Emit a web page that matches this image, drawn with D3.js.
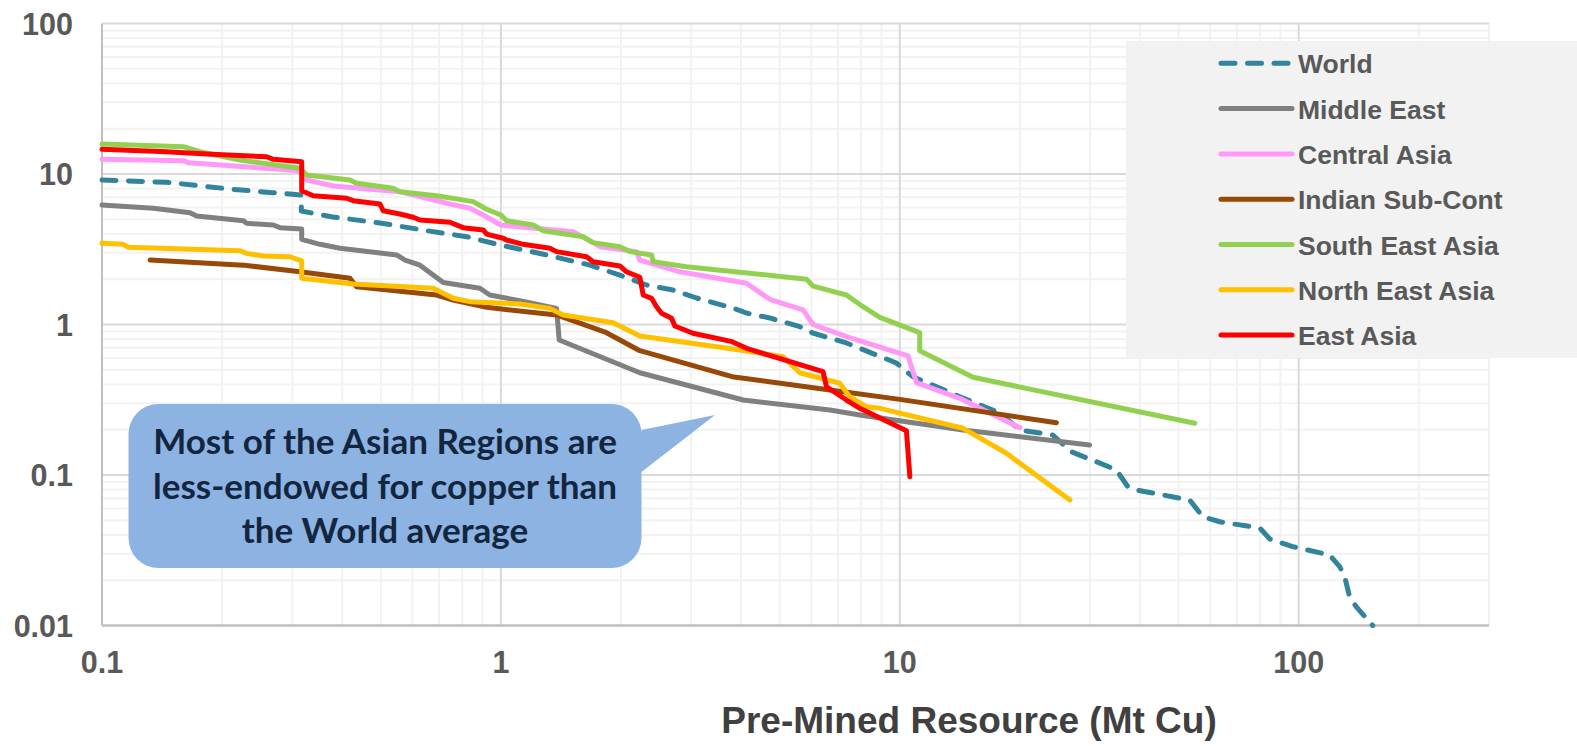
<!DOCTYPE html>
<html>
<head>
<meta charset="utf-8">
<script src="https://cdn.jsdelivr.net/npm/d3@7"></script>
<style>
  body { margin: 0; background: #ffffff; }
  svg { display: block; }
</style>
</head>
<body>
<script>

// series: [Mt Cu pre-mined resource, grade]
const world = [[0.1, 9.12], [0.145, 8.81], [0.213, 7.91], [0.268, 7.51], [0.316, 7.25], [0.316, 5.68],
    [0.379, 5.18], [0.4975, 4.73], [0.675, 4.14], [0.822, 3.83], [0.994, 3.38], [1.302, 2.90], [1.672, 2.48],
    [1.987, 2.13], [2.318, 1.83], [2.698, 1.695], [3.094, 1.50], [3.815, 1.287], [4.128, 1.192], [4.722, 1.105],
    [5.615, 0.967], [6.053, 0.878], [7.35, 0.754], [9.81, 0.555], [10.78, 0.45], [12.36, 0.386], [14.14, 0.331],
    [17.81, 0.258], [20.0, 0.199], [24.18, 0.1844], [26.9, 0.1428], [31.1, 0.1226], [34.9, 0.108], [37.3, 0.0836],
    [39.2, 0.0795], [53.3, 0.0682], [57.5, 0.0528], [63.4, 0.0489], [79.9, 0.0444], [84.6, 0.0376], [96.6, 0.0334],
    [119.6, 0.0294], [126.7, 0.0246], [130.4, 0.0211], [134.2, 0.0155], [139.5, 0.0133], [153.3, 0.01]];

const middleEast = [[0.1, 6.22], [0.1345, 5.92], [0.1662, 5.53], [0.1727, 5.26], [0.2261, 4.89], [0.2305, 4.70],
    [0.2687, 4.58], [0.2793, 4.40], [0.3167, 4.31], [0.3167, 3.68], [0.352, 3.41], [0.395, 3.21], [0.548, 2.90],
    [0.575, 2.68], [0.627, 2.48], [0.717, 1.90], [0.886, 1.74], [0.938, 1.57], [1.116, 1.44], [1.379, 1.28],
    [1.40, 0.789], [2.23, 0.478], [4.05, 0.315], [6.68, 0.270], [7.94, 0.2504], [14.41, 0.199], [29.9, 0.158]];

const centralAsia = [[0.1, 12.52], [0.16, 12.26], [0.1646, 11.89], [0.3135, 10.52], [0.326, 9.12], [0.38, 8.32],
    [0.558, 7.63], [0.745, 6.32], [0.836, 5.92], [0.903, 5.34], [1.0, 4.58], [1.518, 4.14], [1.771, 3.29],
    [2.188, 3.05], [2.23, 2.68], [2.81, 2.24], [4.128, 1.88], [4.72, 1.47], [5.72, 1.25], [6.06, 1.0],
    [7.35, 0.83], [10.49, 0.618], [11.01, 0.411], [14.14, 0.323], [20.0, 0.206]];

const indianSubCont = [[0.132, 2.68], [0.2261, 2.48], [0.3135, 2.24], [0.4184, 2.03], [0.4347, 1.783],
    [0.690, 1.57], [0.7595, 1.455], [0.921, 1.30], [1.379, 1.157], [1.84, 0.882], [2.23, 0.67], [3.8, 0.45],
    [6.68, 0.367], [10.0, 0.318], [24.7, 0.2226]];

const southEastAsia = [[0.1, 15.82], [0.16, 15.19], [0.176, 14.07], [0.2218, 12.39], [0.3135, 10.91],
    [0.326, 9.85], [0.4184, 9.12], [0.4347, 8.68], [0.537, 8.04], [0.558, 7.63], [0.690, 7.17], [0.852, 6.55],
    [0.921, 5.83], [1.0, 5.34], [1.033, 4.89], [1.205, 4.58], [1.276, 4.20], [1.608, 3.83], [1.703, 3.50],
    [1.987, 3.29], [2.106, 3.05], [2.386, 2.90], [2.41, 2.61], [2.92, 2.42], [5.84, 2.00], [6.06, 1.80],
    [7.35, 1.57], [8.09, 1.313], [8.91, 1.116], [11.22, 0.882], [11.22, 0.67], [15.26, 0.446], [54.9, 0.2207]];

const northEastAsia = [[0.1, 3.46], [0.113, 3.41], [0.1164, 3.26], [0.2218, 3.09], [0.2305, 2.97],
    [0.2537, 2.85], [0.296, 2.82], [0.3167, 2.65], [0.3167, 2.03], [0.4264, 1.858], [0.6765, 1.74],
    [0.7595, 1.493], [0.836, 1.418], [1.116, 1.369], [1.327, 1.28], [1.432, 1.157], [1.912, 1.028],
    [2.23, 0.839], [3.97, 0.677], [5.10, 0.611], [5.615, 0.478], [7.07, 0.407], [7.49, 0.331], [8.25, 0.284],
    [8.91, 0.2774], [14.41, 0.2043], [18.51, 0.1394], [26.7, 0.0682]];

const eastAsia = [[0.1, 14.59], [0.145, 14.07], [0.183, 13.58], [0.2587, 13.03], [0.2687, 12.52],
    [0.3167, 12.07], [0.3167, 7.74], [0.3385, 7.17], [0.4105, 6.90], [0.4264, 6.65], [0.4975, 6.32],
    [0.507, 5.70], [0.558, 5.42], [0.603, 5.16], [0.627, 4.95], [0.745, 4.78], [0.804, 4.40], [0.903, 4.25],
    [0.921, 3.99], [1.013, 3.74], [1.033, 3.64], [1.137, 3.41], [1.327, 3.21], [1.379, 3.05], [1.64, 2.82],
    [1.703, 2.61], [1.987, 2.45], [2.065, 2.24], [2.23, 2.06], [2.274, 1.57], [2.386, 1.493], [2.456, 1.313],
    [2.528, 1.187], [2.678, 1.10], [2.73, 0.977], [3.03, 0.874], [3.8, 0.769], [4.128, 0.695], [6.42, 0.486],
    [6.55, 0.386], [7.35, 0.315], [7.94, 0.2774], [10.39, 0.197], [10.6, 0.0974]];

const seriesNames = ['World', 'Middle East', 'Central Asia', 'Indian Sub-Cont', 'South East Asia', 'North East Asia', 'East Asia'];
const seriesData = [world, middleEast, centralAsia, indianSubCont, southEastAsia, northEastAsia, eastAsia];
const seriesColors = ['#31849b', '#808080', '#ff99f8', '#984807', '#92d050', '#ffc000', '#ff0000'];

const xTicks = [0.1, 1, 10, 100];
const yTicks = [0.01, 0.1, 1, 10, 100];
const xTitle = 'Pre-Mined Resource (Mt Cu)';
const noteLines = ['Most of the Asian Regions are', 'less-endowed for copper than', 'the World average'];

const W = 1577, H = 746;

const svg = d3.select('body')
    .append('svg')
    .attr('width', W)
    .attr('height', H);

const x = d3.scaleLog().domain([0.1, 300]).range([102, 1489]);
const y = d3.scaleLog().domain([0.01, 100]).range([625.5, 23.5]);

function minorValues(domain) {
    const out = [];
    for (let d = domain[0]; d < domain[1]; d *= 10) {
        for (let k = 2; k <= 9; k++) {
            const v = +(d * k).toPrecision(3);
            if (v <= domain[1]) out.push(v);
        }
    }
    return out;
}

// grid
const grid_g = svg.append('g');
grid_g.selectAll('.xminor').data(minorValues(x.domain())).enter().append('line')
    .attr('x1', d => x(d)).attr('x2', d => x(d))
    .attr('y1', y(100)).attr('y2', y(0.01))
    .attr('stroke', '#f2f2f2').attr('stroke-width', 2);
grid_g.selectAll('.yminor').data(minorValues(y.domain())).enter().append('line')
    .attr('x1', x(0.1)).attr('x2', x(300))
    .attr('y1', d => y(d)).attr('y2', d => y(d))
    .attr('stroke', '#f2f2f2').attr('stroke-width', 2);
grid_g.selectAll('.xmajor').data(xTicks.slice(1)).enter().append('line')
    .attr('x1', d => x(d)).attr('x2', d => x(d))
    .attr('y1', y(100)).attr('y2', y(0.01))
    .attr('stroke', '#d9d9d9').attr('stroke-width', 2);
grid_g.selectAll('.ymajor').data(yTicks.slice(1)).enter().append('line')
    .attr('x1', x(0.1)).attr('x2', x(300))
    .attr('y1', d => y(d)).attr('y2', d => y(d))
    .attr('stroke', '#d9d9d9').attr('stroke-width', 2);

// axes lines
svg.append('line').attr('x1', x(0.1)).attr('x2', x(0.1)).attr('y1', y(100)).attr('y2', y(0.01))
    .attr('stroke', '#bfbfbf').attr('stroke-width', 2);
svg.append('line').attr('x1', x(0.1)).attr('x2', x(300)).attr('y1', y(0.01)).attr('y2', y(0.01))
    .attr('stroke', '#bfbfbf').attr('stroke-width', 2.5);

// tick labels
const fmt = d => String(d);
svg.selectAll('.ylab').data(yTicks).enter().append('text')
    .attr('x', 73).attr('y', d => y(d) + 11)
    .attr('text-anchor', 'end')
    .attr('font-family', 'Liberation Sans, Arial, sans-serif')
    .attr('font-weight', 'bold').attr('font-size', 30.5)
    .attr('fill', '#595959')
    .text(fmt);
svg.selectAll('.xlab').data(xTicks).enter().append('text')
    .attr('x', d => x(d)).attr('y', 673)
    .attr('text-anchor', 'middle')
    .attr('font-family', 'Liberation Sans, Arial, sans-serif')
    .attr('font-weight', 'bold').attr('font-size', 30.5)
    .attr('fill', '#595959')
    .text(fmt);

svg.append('text')
    .attr('x', 969).attr('y', 733)
    .attr('text-anchor', 'middle')
    .attr('font-family', 'Liberation Sans, Arial, sans-serif')
    .attr('font-weight', 'bold').attr('font-size', 37)
    .attr('fill', '#404040')
    .text(xTitle);

// series
const line = d3.line().x(d => x(d[0])).y(d => y(d[1]));
const plot_g = svg.append('g');
plot_g.selectAll('path').data(seriesData).enter().append('path')
    .attr('d', d => line(d))
    .attr('fill', 'none')
    .attr('stroke', (d, i) => seriesColors[i])
    .attr('stroke-width', 5)
    .attr('stroke-linejoin', 'round')
    .attr('stroke-linecap', 'round')
    .attr('stroke-dasharray', (d, i) => i === 0 ? '14,12.5' : null);

// legend
const leg_g = svg.append('g');
leg_g.append('rect').attr('x', 1126).attr('y', 41).attr('width', W - 1126).attr('height', 317)
    .attr('fill', '#f2f2f2');
const rows = leg_g.selectAll('.row').data(seriesNames).enter().append('g')
    .attr('transform', (d, i) => `translate(0, ${63.3 + i * 45.3})`);
rows.append('line').attr('x1', 1221).attr('x2', 1292).attr('y1', 0).attr('y2', 0)
    .attr('stroke', (d, i) => seriesColors[i])
    .attr('stroke-width', 5)
    .attr('stroke-linecap', 'round')
    .attr('stroke-dasharray', (d, i) => i === 0 ? '14,12.5' : null);
rows.append('text').attr('x', 1298).attr('y', 10)
    .attr('font-family', 'Liberation Sans, Arial, sans-serif')
    .attr('font-weight', 'bold').attr('font-size', 26.5)
    .attr('fill', '#595959')
    .text(d => d);

// callout
const bx0 = 128.5, bx1 = 641.5, by0 = 404, by1 = 568, r = 30;
const note = d3.path();
note.moveTo(bx0 + r, by0);
note.lineTo(bx1 - r, by0);
note.arcTo(bx1, by0, bx1, by0 + r, r);
note.lineTo(bx1, 430);
note.lineTo(715, 415);
note.lineTo(bx1, 472);
note.lineTo(bx1, by1 - r);
note.arcTo(bx1, by1, bx1 - r, by1, r);
note.lineTo(bx0 + r, by1);
note.arcTo(bx0, by1, bx0, by1 - r, r);
note.lineTo(bx0, by0 + r);
note.arcTo(bx0, by0, bx0 + r, by0, r);
note.closePath();
svg.append('path').attr('d', note.toString()).attr('fill', '#8db3e2');

const noteText = svg.selectAll('.note').data(noteLines).enter().append('text')
    .attr('x', (bx0 + bx1) / 2)
    .attr('y', (d, i) => 454 + i * 44.5)
    .attr('text-anchor', 'middle')
    .attr('font-family', 'Lato, Open Sans, sans-serif')
    .attr('font-weight', 'bold').attr('font-size', 34)
    .attr('fill', '#132640')
    .text(d => d);
// fit first line to the width seen in the picture
const w0 = noteText.node().getComputedTextLength();
noteText.attr('font-size', 34 * 464 / w0);

</script>
</body>
</html>
